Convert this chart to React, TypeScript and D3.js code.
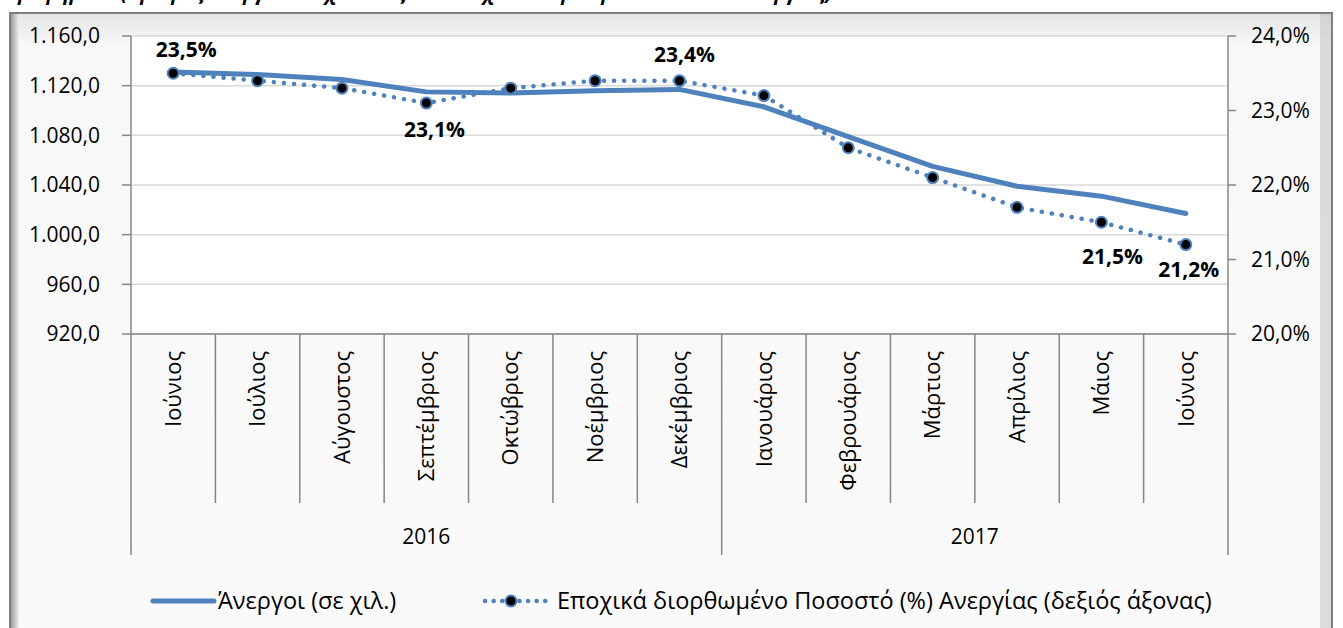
import * as d3 from 'd3';

const months = [
  'Ιούνιος', 'Ιούλιος', 'Αύγουστος', 'Σεπτέμβριος', 'Οκτώβριος', 'Νοέμβριος', 'Δεκέμβριος',
  'Ιανουάριος', 'Φεβρουάριος', 'Μάρτιος', 'Απρίλιος', 'Μάιος', 'Ιούνιος',
];
const years = [
  { label: '2016', from: 0, to: 7 },
  { label: '2017', from: 7, to: 13 },
];
// unemployed, thousands (left axis)
const unemployed = [1131, 1129, 1125, 1115, 1114, 1116, 1117, 1103, 1079, 1055, 1039, 1031, 1017];
// seasonally adjusted rate, % (right axis)
const rate = [23.5, 23.4, 23.3, 23.1, 23.3, 23.4, 23.4, 23.2, 22.5, 22.1, 21.7, 21.5, 21.2];
const leftTicks = [920, 960, 1000, 1040, 1080, 1120, 1160];
const rightTicks = [20, 21, 22, 23, 24];
// which rate points carry a label, and where
const rateLabels: { i: number; dx: number; dy: number }[] = [
  { i: 0, dx: 13, dy: -24 },
  { i: 3, dx: 8, dy: 27 },
  { i: 6, dx: 5, dy: -26 },
  { i: 11, dx: 11, dy: 34 },
  { i: 12, dx: 3, dy: 25 },
];

const W = 1343;
const H = 628;
const FONT = "'Open Sans', 'Noto Sans', sans-serif";
const BLUE = '#4f81bd';

const fmtLeft = (v: number) => {
  const s = v.toFixed(1).replace('.', ',');
  const [int, dec] = s.split(',');
  return int.replace(/\B(?=(\d{3})+(?!\d))/g, '.') + ',' + dec;
};
const fmtPct = (v: number) => v.toFixed(1).replace('.', ',') + '%';

export default function App() {
  const left = 131;
  const right = 1228;
  const top = 36;
  const bottom = 334;

  const x = d3.scaleBand<number>().domain(d3.range(months.length)).range([left, right]);
  const cx = (i: number) => (x(i) ?? 0) + x.bandwidth() / 2;
  const yL = d3.scaleLinear().domain([920, 1160]).range([bottom, top]);
  const yR = d3.scaleLinear().domain([20, 24]).range([bottom, top]);

  const solidPath = d3.line<number>().x((_, i) => cx(i)).y((d) => yL(d))(unemployed) ?? '';
  const dotPath = d3.line<number>().x((_, i) => cx(i)).y((d) => yR(d))(rate) ?? '';

  const monthTickBottom = 503;
  const yearTickBottom = 555;
  const fs = 21;

  return (
    <div style={{ position: 'absolute', left: 0, top: 0 }}>
      <svg width={W} height={H} style={{ display: 'block', fontFamily: FONT }}>
        <defs>
          <linearGradient id="bgGrad" x1="0" y1="0" x2="0" y2="1">
            <stop offset="0" stopColor="#e4e4e4" />
            <stop offset="0.05" stopColor="#f8f8f8" />
            <stop offset="1" stopColor="#fafafa" />
          </linearGradient>
          <linearGradient id="shadowL" x1="0" y1="0" x2="1" y2="0">
            <stop offset="0" stopColor="#9a9a9a" />
            <stop offset="1" stopColor="#f0f0f0" />
          </linearGradient>
        </defs>
        <rect x={0} y={0} width={W} height={H} fill="#ffffff" />
        {/* title, cut off at the top in the source */}
        <text x={8} y={0} fontSize={20} fontWeight="bold" fontStyle="italic" fill="#000">
          Γράφημα 1: (Αριθμός ανέργων σε χιλιάδες και εποχικά διορθωμένο ποσοστό ανεργίας)
        </text>
        {/* chart frame */}
        <rect x={10} y={13} width={1322} height={630} fill="url(#bgGrad)" stroke="#7f7f7f" strokeWidth={2} />
        <rect x={11} y={14} width={8} height={628} fill="url(#shadowL)" />
        <rect x={1320} y={14} width={11} height={628} fill="#c8c8c8" opacity={0.6} />
        <rect x={left} y={top} width={right - left} height={bottom - top} fill="#ffffff" />

        {/* gridlines */}
        {leftTicks.map((t) => (
          <line key={t} x1={left} x2={right} y1={yL(t)} y2={yL(t)} stroke="#d9d9d9" strokeWidth={1.5} />
        ))}

        {/* left axis */}
        <line x1={left} x2={left} y1={top} y2={bottom} stroke="#868686" strokeWidth={1.5} />
        {leftTicks.map((t) => (
          <g key={t}>
            <line x1={left - 9} x2={left} y1={yL(t)} y2={yL(t)} stroke="#868686" strokeWidth={1.5} />
            <text x={left - 31} y={yL(t)} dy="0.35em" textAnchor="end" fontSize={fs} fill="#000">
              {fmtLeft(t)}
            </text>
          </g>
        ))}

        {/* right axis */}
        <line x1={right} x2={right} y1={top} y2={bottom} stroke="#868686" strokeWidth={1.5} />
        {rightTicks.map((t) => (
          <g key={t}>
            <line x1={right} x2={right + 8} y1={yR(t)} y2={yR(t)} stroke="#868686" strokeWidth={1.5} />
            <text x={right + 23} y={yR(t)} dy="0.35em" textAnchor="start" fontSize={fs} fill="#000">
              {fmtPct(t)}
            </text>
          </g>
        ))}

        {/* category axis */}
        <line x1={left} x2={right} y1={bottom} y2={bottom} stroke="#868686" strokeWidth={1.5} />
        {d3.range(months.length + 1).map((i) => {
          const xx = i < months.length ? x(i) ?? 0 : right;
          const isYear = years.some((yr) => yr.from === i || yr.to === i);
          return (
            <line
              key={i}
              x1={xx}
              x2={xx}
              y1={bottom}
              y2={isYear ? yearTickBottom : monthTickBottom}
              stroke="#868686"
              strokeWidth={1.5}
            />
          );
        })}
        {months.map((m, i) => (
          <text
            key={i}
            transform={`translate(${cx(i)},${bottom + 17}) rotate(-90)`}
            textAnchor="end"
            dy="0.35em"
            fontSize={22}
            fill="#000"
          >
            {m}
          </text>
        ))}
        {years.map((yr) => {
          const x0 = x(yr.from) ?? 0;
          const x1 = yr.to < months.length ? x(yr.to) ?? 0 : right;
          return (
            <text key={yr.label} x={(x0 + x1) / 2} y={537} dy="0.35em" textAnchor="middle" fontSize={fs} fill="#000">
              {yr.label}
            </text>
          );
        })}

        {/* series */}
        <path d={solidPath} fill="none" stroke={BLUE} strokeWidth={5} strokeLinejoin="round" strokeLinecap="round" />
        <path
          d={dotPath}
          fill="none"
          stroke={BLUE}
          strokeWidth={4.5}
          strokeDasharray="0.1 10"
          strokeLinecap="round"
        />
        {rate.map((r, i) => (
          <circle key={i} cx={cx(i)} cy={yR(r)} r={5.5} fill="#000" stroke={BLUE} strokeWidth={2} />
        ))}
        {rateLabels.map(({ i, dx, dy }) => (
          <text
            key={i}
            x={cx(i) + dx}
            y={yR(rate[i]) + dy}
            dy="0.35em"
            textAnchor="middle"
            fontSize={21}
            fontWeight="bold"
            fill="#000"
          >
            {fmtPct(rate[i])}
          </text>
        ))}

        {/* legend */}
        <g>
          <line x1={153} x2={214} y1={601} y2={601} stroke={BLUE} strokeWidth={5} strokeLinecap="round" />
          <text x={218} y={601} dy="0.35em" fontSize={23.5} fill="#000">Άνεργοι (σε χιλ.)</text>
          <line
            x1={485}
            x2={546}
            y1={601}
            y2={601}
            stroke={BLUE}
            strokeWidth={4.5}
            strokeDasharray="0.1 8.5"
            strokeLinecap="round"
          />
          <circle cx={511} cy={601} r={5.5} fill="#000" stroke={BLUE} strokeWidth={2} />
          <text x={557} y={601} dy="0.35em" fontSize={23.5} fill="#000">
            Εποχικά διορθωμένο Ποσοστό (%) Ανεργίας (δεξιός άξονας)
          </text>
        </g>
      </svg>
    </div>
  );
}
